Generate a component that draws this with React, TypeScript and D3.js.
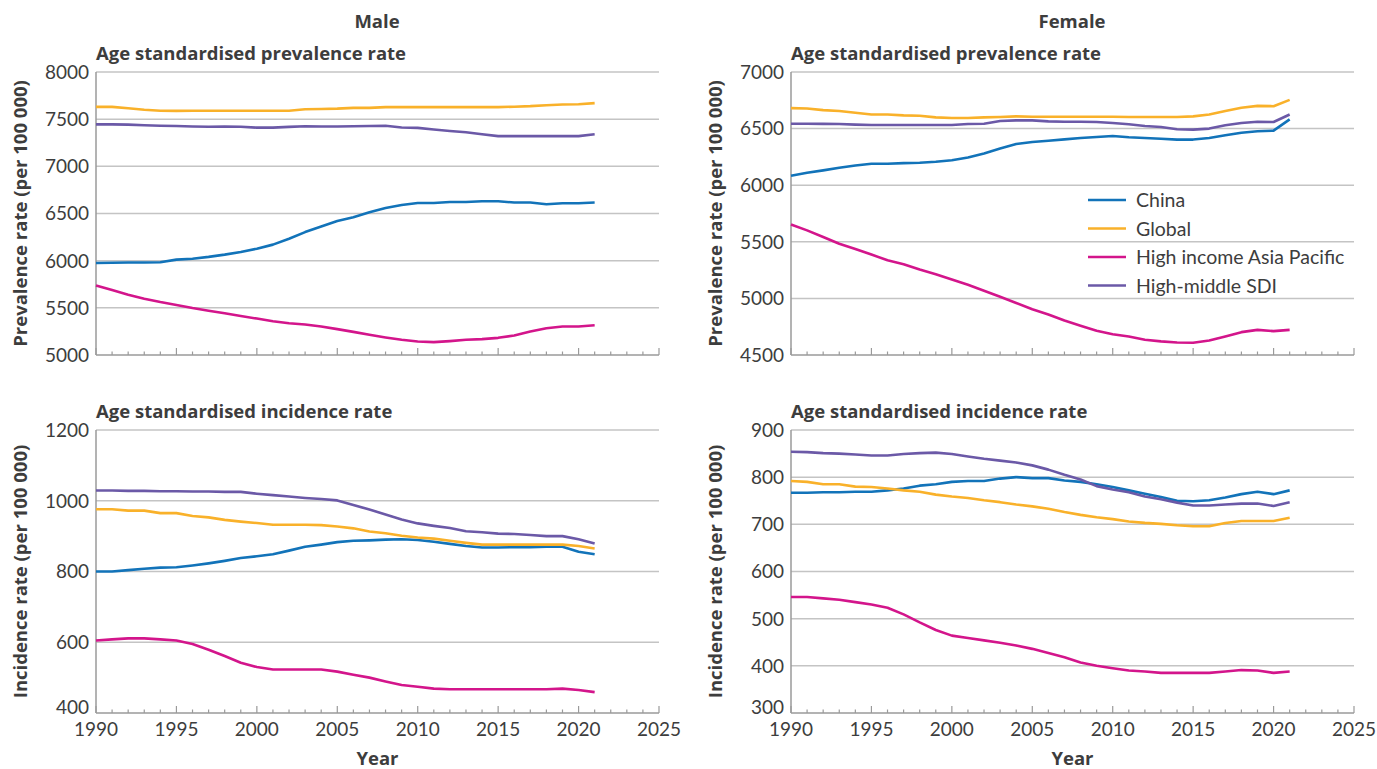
import React from "react";
import * as d3 from "d3";

const years = d3.range(1990, 2022);

const seriesNames = ["China", "Global", "High income Asia Pacific", "High-middle SDI"];
const seriesColors = ["#1273b9", "#f9b12a", "#d3158b", "#6b59a7"];

// Male prevalence
const malePrevChina = [5976, 5978, 5980, 5981, 5983, 6011, 6020, 6040, 6064, 6092, 6127, 6170, 6233, 6303, 6363, 6420, 6460, 6514, 6559, 6590, 6612, 6612, 6622, 6622, 6630, 6630, 6616, 6616, 6598, 6609, 6609, 6616];
const malePrevGlobal = [7630, 7630, 7615, 7600, 7590, 7588, 7590, 7590, 7590, 7590, 7590, 7590, 7590, 7605, 7608, 7612, 7620, 7620, 7628, 7628, 7628, 7628, 7628, 7628, 7628, 7628, 7632, 7638, 7648, 7656, 7658, 7670];
const malePrevHIAP = [5737, 5688, 5639, 5597, 5561, 5530, 5498, 5470, 5442, 5414, 5386, 5358, 5337, 5323, 5302, 5274, 5245, 5214, 5186, 5161, 5143, 5136, 5147, 5161, 5168, 5182, 5207, 5249, 5284, 5302, 5302, 5316];
const malePrevHM = [7445, 7445, 7442, 7435, 7430, 7427, 7422, 7420, 7422, 7420, 7410, 7410, 7418, 7425, 7422, 7422, 7425, 7428, 7430, 7412, 7408, 7390, 7375, 7362, 7340, 7320, 7320, 7320, 7320, 7320, 7320, 7340];

// Female prevalence
const femPrevChina = [6084, 6110, 6131, 6154, 6174, 6189, 6189, 6195, 6198, 6207, 6221, 6245, 6280, 6324, 6364, 6382, 6393, 6405, 6417, 6426, 6435, 6423, 6417, 6411, 6403, 6403, 6417, 6441, 6464, 6476, 6482, 6581];
const femPrevGlobal = [6681, 6678, 6663, 6655, 6640, 6625, 6625, 6617, 6614, 6599, 6593, 6593, 6599, 6602, 6608, 6605, 6605, 6605, 6605, 6605, 6605, 6603, 6603, 6602, 6602, 6608, 6625, 6655, 6684, 6701, 6698, 6754];
const femPrevHIAP = [5653, 5601, 5542, 5483, 5437, 5387, 5337, 5302, 5255, 5214, 5167, 5120, 5068, 5015, 4960, 4904, 4857, 4804, 4758, 4714, 4684, 4664, 4634, 4620, 4611, 4608, 4628, 4664, 4702, 4722, 4711, 4722];
const femPrevHM = [6543, 6543, 6542, 6540, 6535, 6532, 6532, 6532, 6532, 6532, 6532, 6540, 6543, 6567, 6573, 6573, 6564, 6561, 6561, 6558, 6549, 6538, 6523, 6514, 6494, 6491, 6500, 6529, 6549, 6561, 6558, 6625];

// Male incidence
const maleIncChina = [800, 800, 804, 808, 811, 812, 817, 823, 830, 838, 843, 849, 859, 870, 876, 883, 887, 888, 890, 891, 889, 884, 878, 872, 868, 868, 869, 869, 870, 870, 856, 849];
const maleIncGlobal = [976, 976, 972, 972, 965, 965, 957, 953, 946, 941, 937, 932, 932, 932, 931, 927, 922, 913, 908, 901, 896, 893, 887, 881, 876, 876, 876, 876, 876, 876, 872, 865];
const maleIncHIAP = [605, 608, 611, 611, 608, 605, 595, 579, 561, 542, 530, 523, 523, 523, 523, 517, 508, 500, 489, 479, 474, 469, 467, 467, 467, 467, 467, 467, 467, 469, 465, 459];
const maleIncHM = [1029, 1029, 1028, 1028, 1027, 1027, 1026, 1026, 1025, 1025, 1020, 1016, 1012, 1008, 1005, 1001, 988, 975, 961, 947, 936, 929, 923, 914, 911, 907, 906, 903, 900, 900, 891, 879];

// Female incidence
const femIncChina = [767, 767, 768, 768, 769, 769, 772, 776, 782, 785, 790, 792, 792, 797, 800, 798, 798, 793, 790, 785, 779, 772, 765, 758, 750, 749, 751, 757, 764, 769, 764, 772];
const femIncGlobal = [792, 790, 785, 785, 780, 779, 776, 772, 769, 763, 759, 756, 751, 747, 742, 738, 733, 726, 720, 715, 711, 706, 703, 701, 698, 696, 696, 703, 707, 707, 707, 714];
const femIncHIAP = [546, 546, 543, 540, 535, 530, 523, 509, 492, 476, 464, 459, 454, 449, 443, 436, 427, 418, 407, 400, 395, 390, 388, 385, 385, 385, 385, 388, 391, 390, 385, 388];
const femIncHM = [854, 853, 851, 850, 848, 846, 846, 849, 851, 852, 849, 844, 839, 835, 831, 825, 816, 805, 795, 781, 774, 768, 759, 753, 746, 740, 740, 742, 744, 744, 739, 747];

const xTicks = [1990, 1995, 2000, 2005, 2010, 2015, 2020, 2025];
const malePrevTicks = [5000, 5500, 6000, 6500, 7000, 7500, 8000];
const femPrevTicks = [4500, 5000, 5500, 6000, 6500, 7000];
const maleIncTicks = [400, 600, 800, 1000, 1200];
const femIncTicks = [300, 400, 500, 600, 700, 800, 900];

const FONT = "Lato, 'Open Sans', sans-serif";
const BOLD = "'Open Sans', Lato, sans-serif";
const TEXT = "#3d3d3d";
const BSIZE = 18.5;

type PanelProps = {
  x0: number; x1: number; y0: number; y1: number;
  domain: [number, number]; ticks: number[];
  series: number[][]; subtitle: string; ylabel: string; showYear: boolean;
};

function Panel(p: PanelProps) {
  const x = d3.scaleLinear().domain([1990, 2025]).range([p.x0, p.x1]);
  const y = d3.scaleLinear().domain(p.domain).range([p.y1, p.y0]);
  const line = d3.line<number>().x((_, i) => x(years[i])).y((v) => y(v));
  const minor = d3.range(1990, 2026);
  const yMid = (p.y0 + p.y1) / 2;
  return (
    <g>
      <text x={p.x0} y={p.y0 - 12} fontFamily={BOLD} fontWeight={700} fontSize={BSIZE} fill={TEXT}>{p.subtitle}</text>
      {p.ticks.map((t) => (
        <g key={t}>
          {t !== p.domain[0] && (
            <line x1={p.x0} x2={p.x1} y1={y(t)} y2={y(t)} stroke="#c4c4c4" strokeWidth={1.5} />
          )}
          <text x={p.x0 - 7} y={y(t) - (p.showYear && t === p.domain[0] ? 6 : 0)} dy="0.36em" textAnchor="end" fontFamily={FONT} fontSize={19} fill={TEXT}>{t}</text>
        </g>
      ))}
      <line x1={p.x0} x2={p.x0} y1={p.y0} y2={p.y1} stroke="#9a9a9a" strokeWidth={1.5} />
      <line x1={p.x0} x2={p.x1} y1={p.y1} y2={p.y1} stroke="#9a9a9a" strokeWidth={1.5} />
      {minor.map((yr) => (
        <line key={yr} x1={x(yr)} x2={x(yr)} y1={p.y1} y2={p.y1 - (yr % 5 === 0 ? 7 : 3.5)} stroke="#9a9a9a" strokeWidth={1.2} />
      ))}
      {p.showYear && xTicks.map((t) => (
        <text key={t} x={x(t)} y={p.y1 + 23} textAnchor="middle" fontFamily={FONT} fontSize={19} fill={TEXT}>{t}</text>
      ))}
      {p.showYear && (
        <text x={(p.x0 + p.x1) / 2} y={p.y1 + 52} textAnchor="middle" fontFamily={BOLD} fontWeight={700} fontSize={BSIZE} fill={TEXT}>Year</text>
      )}
      <text transform={`translate(${p.x0 - 69},${yMid}) rotate(-90)`} textAnchor="middle" fontFamily={BOLD} fontWeight={700} fontSize={BSIZE} fill={TEXT}>{p.ylabel}</text>
      {p.series.map((s, i) => (
        <path key={i} d={line(s) || ""} fill="none" stroke={seriesColors[i]} strokeWidth={2.6} strokeLinejoin="round" />
      ))}
    </g>
  );
}

export default function App() {
  const L = { x0: 96, x1: 659 };
  const R = { x0: 791, x1: 1354 };
  const T = { y0: 72, y1: 355 };
  const B = { y0: 430, y1: 713 };
  return (
    <div style={{ position: "absolute", left: 0, top: 0 }}>
      <svg width={1377} height={769} style={{ display: "block", background: "#fff" }}>
        <text x={377} y={28} textAnchor="middle" fontFamily={BOLD} fontWeight={700} fontSize={BSIZE} fill={TEXT}>Male</text>
        <text x={1072} y={28} textAnchor="middle" fontFamily={BOLD} fontWeight={700} fontSize={BSIZE} fill={TEXT}>Female</text>
        <Panel {...L} {...T} domain={[5000, 8000]} ticks={malePrevTicks} series={[malePrevChina, malePrevGlobal, malePrevHIAP, malePrevHM]} subtitle="Age standardised prevalence rate" ylabel="Prevalence rate (per 100 000)" showYear={false} />
        <Panel {...R} {...T} domain={[4500, 7000]} ticks={femPrevTicks} series={[femPrevChina, femPrevGlobal, femPrevHIAP, femPrevHM]} subtitle="Age standardised prevalence rate" ylabel="Prevalence rate (per 100 000)" showYear={false} />
        <Panel {...L} {...B} domain={[400, 1200]} ticks={maleIncTicks} series={[maleIncChina, maleIncGlobal, maleIncHIAP, maleIncHM]} subtitle="Age standardised incidence rate" ylabel="Incidence rate (per 100 000)" showYear={true} />
        <Panel {...R} {...B} domain={[300, 900]} ticks={femIncTicks} series={[femIncChina, femIncGlobal, femIncHIAP, femIncHM]} subtitle="Age standardised incidence rate" ylabel="Incidence rate (per 100 000)" showYear={true} />
        <g>
          {seriesNames.map((n, i) => (
            <g key={n} transform={`translate(1088,${200 + i * 28.5})`}>
              <line x1={0} x2={38} y1={0} y2={0} stroke={seriesColors[i]} strokeWidth={2.6} />
              <text x={48} y={0} dy="0.36em" fontFamily={FONT} fontSize={19.5} fill={TEXT}>{n}</text>
            </g>
          ))}
        </g>
      </svg>
    </div>
  );
}
